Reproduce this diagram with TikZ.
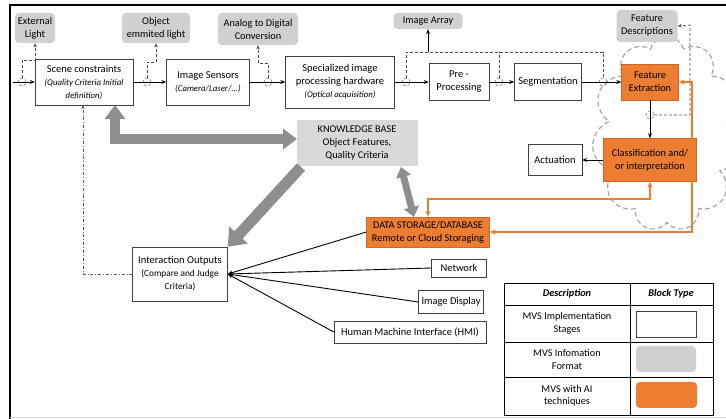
\documentclass[tikz,border=0pt]{standalone}
\usepackage{fontspec}
\setmainfont{Carlito}
\usetikzlibrary{arrows.meta,shapes.symbols}

\definecolor{aiorange}{HTML}{ED7D31}
\definecolor{infogray}{HTML}{D0D0D0}
\definecolor{kbgray}{HTML}{D9D9D9}
\definecolor{fatgray}{HTML}{8E8E8E}

\newcommand\subtxt[1]{{\fontsize{8.8}{10}\selectfont\itshape #1}}

\tikzset{
  stage/.style={draw=black!75, fill=white, align=center, inner sep=1pt,
    font=\fontsize{10.5}{13}\selectfont},
  info/.style={fill=infogray, rounded corners=4pt, align=center, inner sep=1pt,
    font=\fontsize{10.3}{13}\selectfont},
  aibox/.style={fill=aiorange, draw=aiorange!85!black, align=center, inner sep=1pt,
    font=\fontsize{10.3}{13}\selectfont},
  legtext/.style={align=center, font=\fontsize{10.3}{12.5}\selectfont},
  tap/.style={circle, draw=black!70, densely dashed, minimum size=8pt, inner sep=0pt},
  flow/.style={-{Stealth[length=5pt,width=4pt]}, line width=0.9pt},
  tapline/.style={densely dashed, draw=black!70, line width=0.7pt},
  ailine/.style={draw=aiorange, line width=1.4pt,
    {Stealth[length=6pt,width=5pt]}-{Stealth[length=6pt,width=5pt]}},
  fat/.style={draw=fatgray, line join=miter},
  cloudy/.style={cloud, cloud puffs=11, cloud ignores aspect, draw=gray!70,
    dash pattern=on 5pt off 3pt, line width=1.2pt}
}

\begin{document}
\begin{tikzpicture}[x=1pt,y=-1pt]
  \useasboundingbox (0,0) rectangle (726,419);
  \draw[line width=1.6pt] (10,419) -- (10,5) -- (726,5);
  \draw[gray!30] (10,417) -- (726,417);

  % AI cloud
  \node[cloudy, minimum width=150, minimum height=195] (cl) at (667,134) {};

  % information formats
  \node[info, minimum width=40, minimum height=30] (ext) at (35,28) {External\\Light};
  \node[info, minimum width=68, minimum height=30] (obj) at (156,28) {Object\\emmited light};
  \node[info, minimum width=80, minimum height=32] (adc) at (258,29) {Analog to Digital\\Conversion};
  \node[info, minimum width=69, minimum height=16] (arr) at (428,21) {Image Array};
  \node[info, minimum width=61, minimum height=32] (fdesc) at (647,26) {Feature\\Descriptions};
  \node[info, fill=kbgray, rounded corners=0pt, minimum width=121, minimum height=46]
    (kb) at (357,143) {KNOWLEDGE BASE\\Object Features,\\Quality Criteria};

  % implementation stages
  \node[stage, minimum width=98, minimum height=46] (scene) at (84,82)
    {Scene constraints\\\subtxt{(Quality Criteria Initial}\\\subtxt{definition)}};
  \node[stage, minimum width=83, minimum height=46] (sensors) at (208,82)
    {Image Sensors\\\subtxt{(Camera/Laser/...)}};
  \node[stage, minimum width=109, minimum height=52] (hw) at (340,82)
    {Specialized image\\processing hardware\\\subtxt{(Optical acquisition)}};
  \node[stage, minimum width=60, minimum height=37] (pre) at (459,82) {Pre -\\Processing};
  \node[stage, minimum width=67, minimum height=37] (seg) at (548,82) {Segmentation};
  \node[stage, minimum width=54, minimum height=31] (act) at (555,160) {Actuation};
  \node[stage, minimum width=95, minimum height=54] (io) at (180,274)
    {Interaction Outputs\\{\fontsize{9.3}{11}\selectfont(Compare and Judge}\\{\fontsize{9.3}{11}\selectfont Criteria)}};
  \node[stage, minimum width=55, minimum height=18] (net) at (459,268) {Network};
  \node[stage, minimum width=65, minimum height=23] (disp) at (451,302) {Image Display};
  \node[stage, minimum width=152, minimum height=22] (hmi) at (410,332) {Human Machine Interface (HMI)};

  % AI blocks
  \node[aibox, minimum width=57, minimum height=36] (fext) at (650,82) {Feature\\Extraction};
  \node[aibox, minimum width=93, minimum height=43] (cls) at (650,160) {Classification and/\\or interpretation};
  \node[aibox, minimum width=123, minimum height=30] (ds) at (428,232)
    {DATA STORAGE/DATABASE\\Remote or Cloud Storaging};

  % main chain
  \coordinate (in) at (13,82);
  \draw[flow] (in) -- (scene);
  \draw[flow] (scene) -- (sensors);
  \draw[flow] (sensors) -- (hw);
  \draw[flow] (hw) -- (pre);
  \draw[flow] (pre) -- (seg);
  \draw[flow] (seg) -- (fext);
  \draw[flow] (fext) -- (cls);
  \draw[flow] (cls) -- (act);

  % taps
  \node[tap] (t1) at (22,82) {};
  \node[tap] (t2) at (147,82) {};
  \node[tap] (t3) at (268,82) {};
  \node[tap] (t4) at (406,82) {};
  \node[tap] (t5) at (499,82) {};
  \node[tap] (t6) at (603,82) {};
  \node[tap] (t7) at (650,115) {};
  \draw[tapline, -{Stealth[length=4pt,width=3.5pt]}] (t1.north) |- (35,60) -- (ext.south);
  \draw[tapline, -{Stealth[length=4pt,width=3.5pt]}] (t2.north) |- (156,62) -- (obj.south);
  \draw[tapline, -{Stealth[length=4pt,width=3.5pt]}] (t3.north) |- (258,63) -- (adc.south);
  \draw[tapline] (t4.north) |- (603,52) -- (t6.north);
  \draw[tapline] (t5.north) -- (499,52);
  \draw[line width=0.8pt, -{Stealth[length=5pt,width=4pt]}] (428,52) -- (arr.south);
  \draw[tapline, -{Stealth[length=4pt,width=3.5pt]}] (t7.east) -| (690,25) -- (fdesc.east);

  % storage links
  \coordinate (oc) at (692,232);
  \coordinate (ob) at (650,199);
  \draw[ailine] (fext.east) -| (oc) -- (ds.east);
  \draw[ailine] (ds.north) |- (ob) -- (cls.south);

  % outputs
  \draw[line width=0.9pt, -{Stealth[length=5pt,width=4pt]}] (ds.west) -- (io.east);
  \draw[line width=0.9pt, -{Stealth[length=5pt,width=4pt]}] (net.west) -- (io.east);
  \draw[line width=0.9pt, -{Stealth[length=5pt,width=4pt]}] (disp.west) -- (io.east);
  \draw[line width=0.9pt, -{Stealth[length=5pt,width=4pt]}] (hmi.west) -- (io.east);
  \coordinate (ioc) at (83,274);
  \coordinate (scb) at (83,105);
  \draw[gray!70!black, line width=0.8pt, dash dot, -{Stealth[length=4pt,width=3.5pt]}]
    (io.west) -- (ioc) -- (scb);

  % knowledge base arrows
  \coordinate (sb) at (115,105);
  \coordinate (kbl) at (297,139);
  \coordinate (kbs) at (301,167);
  \coordinate (kbd) at (401,167);
  \coordinate (dst) at (414,217);
  \draw[fat, line width=10pt, {Triangle[length=14pt,width=20pt]}-{Triangle[length=14pt,width=20pt]}]
    (sb) |- (kbl);
  \draw[fat, line width=11pt, -{Triangle[length=16pt,width=24pt]}] (kbs) -- (io.north east);
  \draw[fat, line width=7pt, {Triangle[length=10pt,width=15pt]}-{Triangle[length=10pt,width=15pt]}]
    (kbd) -- (dst);

  % legend
  \draw[line width=0.8pt] (504,283) rectangle (713,415);
  \draw (630,283) -- (630,415);
  \foreach \yy in {305,342,377} \draw (504,\yy) -- (713,\yy);
  \node[legtext] (lh1) at (567,294) {\textbf{\textit{Description}}};
  \node[legtext] (lh2) at (671,294) {\textbf{\textit{Block Type}}};
  \node[legtext] (l1) at (567,323.5) {MVS Implementation\\Stages};
  \node[legtext] (l2) at (567,359.5) {MVS Infomation\\Format};
  \node[legtext] (l3) at (567,396) {MVS with AI\\techniques};
  \node[draw=black!75, fill=white, minimum width=60, minimum height=26] (sw1) at (666,324) {};
  \node[fill=infogray, rounded corners=4pt, minimum width=60, minimum height=26] (sw2) at (666,359) {};
  \node[fill=aiorange, rounded corners=4pt, minimum width=61, minimum height=26] (sw3) at (666.5,395) {};
\end{tikzpicture}
\end{document}
